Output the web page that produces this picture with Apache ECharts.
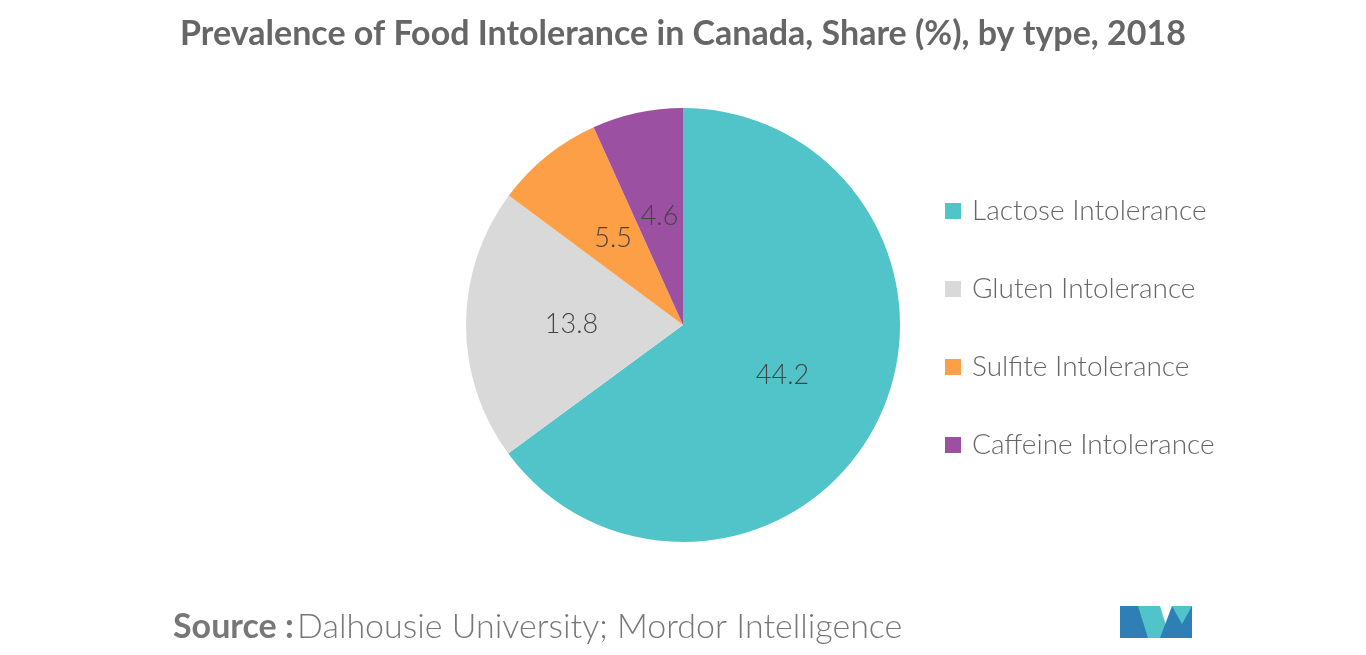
<!DOCTYPE html>
<html>
<head>
<meta charset="utf-8">
<script src="https://cdn.jsdelivr.net/npm/echarts@6/dist/echarts.min.js"></script>
<style>
  html, body { margin: 0; padding: 0; background: #fff; }
  #chart { width: 1366px; height: 655px; }
</style>
</head>
<body>
<div id="chart"></div>
<script>
// food intolerance shares
var categories = ['Lactose Intolerance', 'Gluten Intolerance', 'Sulfite Intolerance', 'Caffeine Intolerance'];
var values = [44.2, 13.8, 5.5, 4.6];
var colors = ['#50c4c9', '#d9d9d9', '#fd9f47', '#9b50a2'];

var chart = echarts.init(document.getElementById('chart'));

var pieData = categories.map(function (c, i) {
  return { name: c, value: values[i], itemStyle: { color: colors[i] } };
});

chart.setOption({
  textStyle: { fontFamily: 'Lato' },
  title: {
    text: 'Prevalence of Food Intolerance in Canada, Share (%), by type, 2018',
    left: 'center',
    top: 12,
    textStyle: { fontFamily: 'Lato', fontSize: 34, fontWeight: 'bold', color: '#666' }
  },
  legend: {
    orient: 'vertical',
    left: 940,
    top: 192,
    itemWidth: 16,
    itemHeight: 16,
    itemGap: 50,
    icon: 'rect',
    data: categories,
    textStyle: { fontSize: 28, color: '#666', fontWeight: 300, padding: [0, 0, 0, 6] }
  },
  series: [{
    type: 'pie',
    center: [683, 325],
    radius: [0, 217],
    startAngle: 90,
    clockwise: true,
    data: pieData,
    label: {
      position: 'inside',
      fontSize: 27,
      color: '#444',
      fontWeight: 300,
      formatter: '{c}'
    },
    labelLine: { show: false },
    emphasis: { disabled: true }
  }],
  graphic: [
    {
      type: 'text',
      left: 173,
      top: 610,
      style: {
        rich: {
          b: { fontFamily: 'Lato', fontSize: 34, fontWeight: 'bold', fill: '#777' },
          n: { fontFamily: 'Lato', fontSize: 34, fontWeight: 300, fill: '#777' }
        },
        text: '{b|Source :} {n|Dalhousie University; Mordor Intelligence}'
      }
    },
    { type: 'polygon', shape: { points: [[1120, 638], [1120, 606], [1142, 606], [1152, 638]] }, style: { fill: '#2e7fb6' } },
    { type: 'polygon', shape: { points: [[1138, 606], [1160, 606], [1170, 638], [1148, 638]] }, style: { fill: '#50c4c9' } },
    { type: 'polygon', shape: { points: [[1160, 638], [1172, 606], [1192, 606], [1192, 638]] }, style: { fill: '#2e7fb6' } },
    { type: 'polygon', shape: { points: [[1172, 606], [1192, 606], [1182, 624]] }, style: { fill: '#50c4c9' } }
  ]
});
</script>
</body>
</html>
